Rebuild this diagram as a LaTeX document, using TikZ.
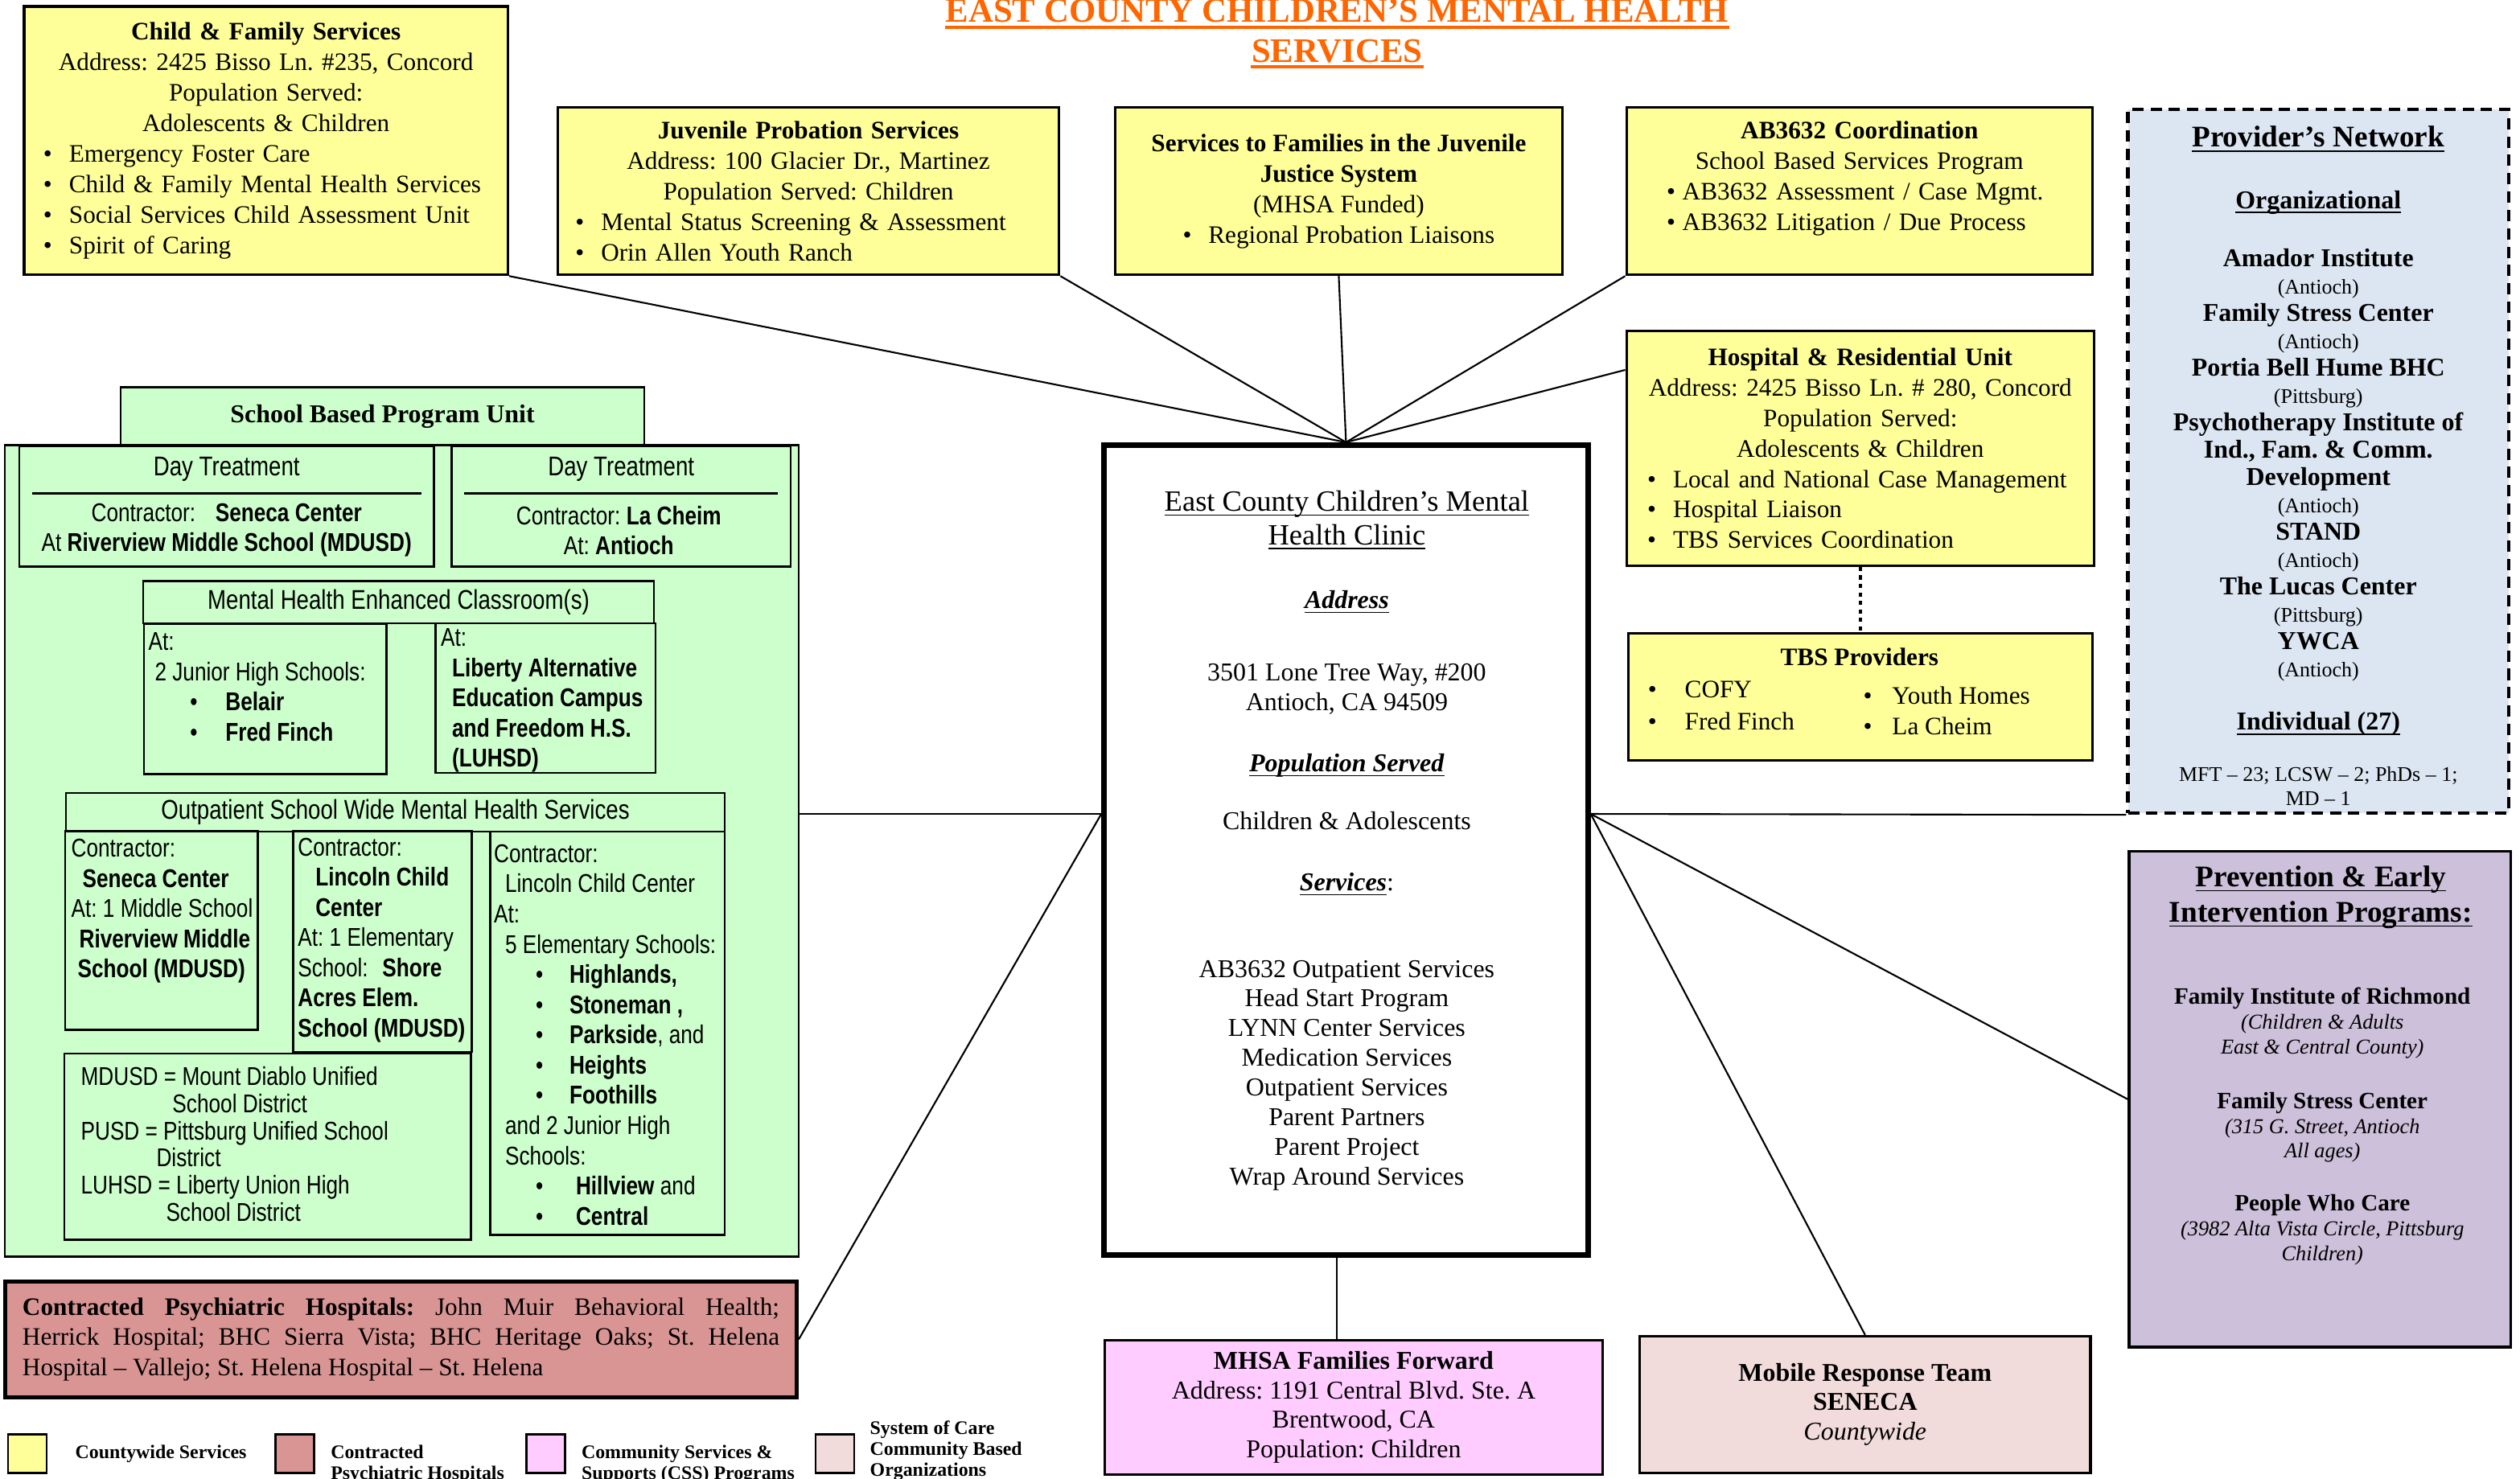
\documentclass[tikz,border=0pt]{standalone}
\usepackage{fontspec}
\setmainfont{Liberation Serif}
\newfontfamily\narrowsans{Liberation Sans}[FakeStretch=0.82]

\definecolor{cyellow}{RGB}{255,255,153}
\definecolor{cgreen}{RGB}{204,255,204}
\definecolor{cblue}{RGB}{220,230,242}
\definecolor{cpurple}{RGB}{204,192,218}
\definecolor{cred}{RGB}{217,149,148}
\definecolor{cpink}{RGB}{255,204,255}
\definecolor{crose}{RGB}{242,220,219}
\definecolor{corange}{RGB}{255,102,0}

\setlength{\parindent}{0pt}
\lineskiplimit=-20pt
\frenchspacing

\newcommand{\bodyfont}{\fontsize{8.9}{10.8}\selectfont}
\newcommand{\schoolfont}{\narrowsans\fontsize{9.1}{10.7}\selectfont}
\newcommand{\schoolhead}{\narrowsans\fontsize{9.6}{10.7}\selectfont}
\newcommand{\smallloc}{\fontsize{7.4}{9.7}\selectfont}
\newcommand{\peinote}{\fontsize{7.5}{8.8}\selectfont\itshape}
\newcommand{\bul}{\makebox[0.32cm][l]{\textbullet}}
\newcommand{\bitem}[1]{\makebox[\hsize][l]{\bul#1}}
\newcommand{\sbul}[1]{\hspace*{0.52cm}\makebox[#1][l]{\textbullet}}
\newcommand{\ulx}[1]{\underline{\raisebox{0pt}[\height][0pt]{#1}}}

\tikzset{
    ybox/.style={draw, line width=0.9pt, fill=cyellow, inner sep=0pt, font=\bodyfont, align=center},
    gbox/.style={draw, line width=0.7pt, fill=cgreen, inner sep=0pt},
    plain/.style={inner sep=0pt, font=\bodyfont, align=center},
    school/.style={inner sep=0pt, font=\schoolfont, align=left},
    titletxt/.style={inner sep=0pt, anchor=base, text=corange, font=\fontsize{12.2}{14}\selectfont\bfseries},
    link/.style={line width=0.6pt},
    legbox/.style={draw, line width=0.8pt, minimum width=0.48cm, minimum height=0.48cm, inner sep=0pt},
    legtxt/.style={inner sep=0pt, anchor=west, align=left, font={\fontsize{6.8}{7.4}\selectfont\bfseries}},
}

\begin{document}
\begin{tikzpicture}
    \useasboundingbox (0,0) rectangle (31.36,-18.40);

    % Titulo
    \node[titletxt] (title1) at (16.64,-0.28) {EAST COUNTY CHILDREN'S MENTAL HEALTH};
    \node[titletxt] (title2) at (16.64,-0.774) {SERVICES};
    \draw[corange, line width=1.2pt] ([yshift=-1.7pt]title1.base west) -- ([yshift=-1.7pt]title1.base east);
    \draw[corange, line width=1.2pt] ([yshift=-1.7pt]title2.base west) -- ([yshift=-1.7pt]title2.base east);

    % Fila de arriba
    \node[ybox, minimum width=6.02cm, minimum height=3.34cm, text width=5.54cm] (cfs) at (3.31,-1.75) {
        \textbf{Child \& Family Services}\\
        Address: 2425 Bisso Ln. \#235, Concord\\
        Population Served:\\
        Adolescents \& Children\\
        \bitem{Emergency Foster Care}\\
        \bitem{Child \& Family Mental Health Services}\\
        \bitem{Social Services Child Assessment Unit}\\
        \bitem{Spirit of Caring}};

    \node[ybox, minimum width=6.24cm, minimum height=2.08cm, text width=5.80cm] (jps) at (10.06,-2.38) {
        \textbf{Juvenile Probation Services}\\
        Address: 100 Glacier Dr., Martinez\\
        Population Served: Children\\
        \bitem{Mental Status Screening \& Assessment}\\
        \bitem{Orin Allen Youth Ranch}};

    \node[ybox, minimum width=5.56cm, minimum height=2.08cm] (sfj) at (16.66,-2.38) {
        \textbf{Services to Families in the Juvenile}\\
        \textbf{Justice System}\\
        (MHSA Funded)\\
        \textbullet\hspace{5.9pt}Regional Probation Liaisons};

    \node[ybox, minimum width=5.80cm, minimum height=2.08cm] (ab) at (23.14,-2.38) {};
    \node[plain, text width=4.80cm] (ab-txt) at (23.14,-2.22) {
        \textbf{AB3632 Coordination}\\
        School Based Services Program\\
        \makebox[\hsize][l]{\textbullet\hspace{2.5pt}AB3632 Assessment / Case Mgmt.}\\
        \makebox[\hsize][l]{\textbullet\hspace{2.5pt}AB3632 Litigation / Due Process}};

    % Red de proveedores
    \node[draw, line width=1.2pt, dash pattern=on 4pt off 2.5pt, fill=cblue, minimum width=4.74cm, minimum height=8.76cm,
          inner sep=0pt, align=center, font=\fontsize{9.1}{9.7}\selectfont] (pn) at (28.85,-5.74) {};
    \node[plain, font=\fontsize{9.1}{9.7}\selectfont] (pn-txt) at (28.85,-5.80) {
        {\fontsize{10.6}{9.7}\selectfont\bfseries\ulx{Provider's Network}}\\[12pt]
        {\bfseries\ulx{Organizational}}\\[10.8pt]
        \textbf{Amador Institute}\\
        {\smallloc(Antioch)}\\
        \textbf{Family Stress Center}\\
        {\smallloc(Antioch)}\\
        \textbf{Portia Bell Hume BHC}\\
        {\smallloc(Pittsburg)}\\
        \textbf{Psychotherapy Institute of}\\
        \textbf{Ind., Fam. \& Comm.}\\
        \textbf{Development}\\
        {\smallloc(Antioch)}\\
        \textbf{STAND}\\
        {\smallloc(Antioch)}\\
        \textbf{The Lucas Center}\\
        {\smallloc(Pittsburg)}\\
        \textbf{YWCA}\\
        {\smallloc(Antioch)}\\[9.1pt]
        {\bfseries\ulx{Individual (27)}}\\[8.5pt]
        {\smallloc MFT -- 23; LCSW -- 2; PhDs -- 1;}\\[-1.2pt]
        {\smallloc MD -- 1}};

    % Hospital y TBS
    \node[ybox, minimum width=5.82cm, minimum height=2.92cm, text width=5.30cm] (hru) at (23.15,-5.58) {
        \textbf{Hospital \& Residential Unit}\\
        \makebox[\hsize][c]{Address: 2425 Bisso Ln. \# 280, Concord}\\
        Population Served:\\
        Adolescents \& Children\\
        \bitem{Local and National Case Management}\\
        \bitem{Hospital Liaison}\\
        \bitem{TBS Services Coordination}};

    \node[ybox, minimum width=5.78cm, minimum height=1.58cm] (tbs) at (23.15,-8.67) {};
    \node[plain, font=\bodyfont\bfseries] (tbs-h) at (23.14,-8.18) {TBS Providers};
    \node[plain, anchor=west, align=left, font=\fontsize{8.9}{11.4}\selectfont] (tbs-l) at (20.50,-8.78) {
        \makebox[0.46cm][l]{\textbullet}COFY\\
        \makebox[0.46cm][l]{\textbullet}Fred Finch};
    \node[plain, anchor=west, align=left, font=\fontsize{8.9}{10.8}\selectfont] (tbs-r) at (23.18,-8.85) {
        \makebox[0.36cm][l]{\textbullet}Youth Homes\\
        \makebox[0.36cm][l]{\textbullet}La Cheim};

    % Clinica central
    \node[draw, line width=2pt, fill=white, minimum width=6.02cm, minimum height=10.08cm, inner sep=0pt] (clinic) at (16.75,-10.58) {};
    \node[plain, font=\fontsize{9.1}{10.5}\selectfont] (clinic-txt) at (16.76,-10.46) {
        {\fontsize{10.4}{10.5}\selectfont\ulx{East County Children's Mental}}\\[1.4pt]
        {\fontsize{10.4}{10.5}\selectfont\ulx{Health Clinic}}\\[12.2pt]
        \ulx{\textbf{\textit{Address}}}\\[15.1pt]
        3501 Lone Tree Way, \#200\\
        Antioch, CA 94509\\[11.1pt]
        \ulx{\textbf{\textit{Population Served}}}\\[10pt]
        Children \& Adolescents\\[11.1pt]
        \ulx{\textbf{\textit{Services}}}:\\[20.2pt]
        AB3632 Outpatient Services\\
        Head Start Program\\
        LYNN Center Services\\
        Medication Services\\
        Outpatient Services\\
        Parent Partners\\
        Parent Project\\
        Wrap Around Services};

    % Unidad de programas escolares
    \node[gbox, minimum width=9.88cm, minimum height=10.10cm] (sbpu) at (5.00,-10.59) {};
    \node[gbox, minimum width=6.52cm, minimum height=0.72cm, font=\fontsize{9.1}{10.8}\selectfont\bfseries] (sbpu-h) at (4.76,-5.18) {School Based Program Unit};

    \node[gbox, minimum width=5.16cm, minimum height=1.50cm] (dt1) at (2.82,-6.30) {};
    \node[school, font=\schoolhead] (dt1-h) at (2.82,-5.84) {Day Treatment};
    \draw[line width=0.8pt] (0.40,-6.14) -- (5.24,-6.14);
    \node[school, align=center] (dt1-t) at (2.82,-6.60) {
        Contractor:\hspace{7pt}\textbf{Seneca Center}\\
        At \textbf{Riverview Middle School (MDUSD)}};

    \node[gbox, minimum width=4.22cm, minimum height=1.50cm] (dt2) at (7.73,-6.30) {};
    \node[school, font=\schoolhead] (dt2-h) at (7.73,-5.84) {Day Treatment};
    \draw[line width=0.8pt] (5.78,-6.14) -- (9.68,-6.14);
    \node[school, align=center] (dt2-t) at (7.70,-6.60) {
        Contractor: \textbf{La Cheim}\\
        At: \textbf{Antioch}};

    \node[gbox, minimum width=6.36cm, minimum height=0.53cm, font=\schoolhead] (mhec) at (4.96,-7.495) {Mental Health Enhanced Classroom(s)};
    \node[gbox, minimum width=3.02cm, minimum height=1.87cm] (mhec1) at (3.30,-8.70) {};
    \node[school, anchor=west] (mhec1-t) at (1.84,-8.55) {
        At:\\
        \hspace*{0.08cm}2 Junior High Schools:\\
        \sbul{0.44cm}\textbf{Belair}\\
        \sbul{0.44cm}\textbf{Fred Finch}};
    \node[gbox, minimum width=2.74cm, minimum height=1.86cm] (mhec2) at (6.79,-8.69) {};
    \node[school, anchor=west] (mhec2-t) at (5.48,-8.72) {
        At:\\
        \hspace*{0.14cm}\textbf{Liberty Alternative}\\
        \hspace*{0.14cm}\textbf{Education Campus}\\
        \hspace*{0.14cm}\textbf{and Freedom H.S.}\\
        \hspace*{0.14cm}\textbf{(LUHSD)}};

    \node[gbox, minimum width=8.20cm, minimum height=0.48cm, font=\schoolhead] (osw) at (4.92,-10.11) {Outpatient School Wide Mental Health Services};
    \node[gbox, minimum width=2.40cm, minimum height=2.47cm] (osA) at (2.01,-11.58) {};
    \node[school, anchor=west] (osA-t) at (0.88,-11.34) {
        Contractor:\\
        \hspace*{0.14cm}\textbf{Seneca Center}\\
        At: 1 Middle School\\
        \hspace*{0.10cm}\textbf{Riverview Middle}\\
        \hspace*{0.08cm}\textbf{School (MDUSD)}};
    \node[gbox, minimum width=2.22cm, minimum height=2.75cm] (osB) at (4.76,-11.72) {};
    \node[school, anchor=west] (osB-t) at (3.70,-11.70) {
        Contractor:\\
        \hspace*{0.22cm}\textbf{Lincoln Child}\\
        \hspace*{0.22cm}\textbf{Center}\\
        At: 1 Elementary\\
        School:\hspace{5pt}\textbf{Shore}\\
        \textbf{Acres Elem.}\\
        \textbf{School (MDUSD)}};
    \node[gbox, minimum width=2.92cm, minimum height=5.02cm] (osC) at (7.56,-12.86) {};
    \node[school, anchor=west] (osC-t) at (6.14,-12.88) {
        Contractor:\\
        \hspace*{0.14cm}Lincoln Child Center\\
        At:\\
        \hspace*{0.14cm}5 Elementary Schools:\\
        \sbul{0.42cm}\textbf{Highlands,}\\
        \sbul{0.42cm}\textbf{Stoneman ,}\\
        \sbul{0.42cm}\textbf{Parkside}, and\\
        \sbul{0.42cm}\textbf{Heights}\\
        \sbul{0.42cm}\textbf{Foothills}\\
        \hspace*{0.14cm}and 2 Junior High\\
        \hspace*{0.14cm}Schools:\\
        \sbul{0.50cm}\textbf{Hillview} and\\
        \sbul{0.50cm}\textbf{Central}};
    \node[gbox, minimum width=5.06cm, minimum height=2.32cm] (abbr) at (3.33,-14.27) {};
    \node[school, anchor=west, font=\narrowsans\fontsize{9.1}{9.6}\selectfont] (abbr-t) at (1.00,-14.24) {
        MDUSD = Mount Diablo Unified\\
        \hspace*{1.14cm}School District\\
        PUSD = Pittsburg Unified School\\
        \hspace*{0.94cm}District\\
        LUHSD = Liberty Union High\\
        \hspace*{1.06cm}School District};

    % Hospitales contratados
    \node[draw, line width=1.4pt, fill=cred, minimum width=9.85cm, minimum height=1.44cm, inner sep=0pt,
          text width=9.42cm, align=justify, font=\bodyfont] (cph) at (4.99,-16.67) {
        \textbf{Contracted Psychiatric Hospitals:} John Muir Behavioral Health;\linebreak
        Herrick Hospital; BHC Sierra Vista; BHC Heritage Oaks; St. Helena\linebreak
        Hospital -- Vallejo; St. Helena Hospital -- St. Helena};

    % Prevencion
    \node[draw, line width=1.1pt, fill=cpurple, minimum width=4.75cm, minimum height=6.17cm, inner sep=0pt] (pei) at (28.87,-13.68) {};
    \node[plain, font=\fontsize{10.6}{12.5}\selectfont\bfseries] (pei-t) at (28.88,-11.16) {
        \ulx{Prevention \& Early}\\
        \ulx{Intervention Programs:}};
    \node[plain, font=\fontsize{8.3}{8.8}\selectfont] (pei-b) at (28.90,-14.02) {
        \textbf{Family Institute of Richmond}\\
        {\peinote(Children \& Adults}\\
        {\peinote East \& Central County)}\\[10.5pt]
        \textbf{Family Stress Center}\\
        {\peinote(315 G. Street, Antioch}\\
        {\peinote All ages)}\\[10pt]
        \textbf{People Who Care}\\
        {\peinote(3982 Alta Vista Circle, Pittsburg}\\
        {\peinote Children)}};

    % Abajo
    \node[draw, line width=0.9pt, fill=cpink, minimum width=6.19cm, minimum height=1.67cm, inner sep=0pt,
          align=center, font=\fontsize{9.1}{10.4}\selectfont] (mhsa) at (16.845,-17.515) {
        \textbf{MHSA Families Forward}\\
        Address: 1191 Central Blvd. Ste. A\\
        Brentwood, CA\\
        Population: Children};
    \node[draw, line width=0.9pt, fill=crose, minimum width=5.61cm, minimum height=1.70cm, inner sep=0pt,
          align=center, font=\fontsize{9.1}{10.3}\selectfont] (mrt) at (23.21,-17.48) {
        \textbf{Mobile Response Team}\\
        \textbf{SENECA}\\
        \textit{Countywide}};

    % Leyenda
    \node[legbox, fill=cyellow] (leg1) at (0.34,-18.09) {};
    \node[legtxt] (leg1-t) at (0.93,-18.10) {Countywide Services};
    \node[legbox, fill=cred] (leg2) at (3.67,-18.09) {};
    \node[legtxt] (leg2-t) at (4.11,-18.23) {Contracted\\Psychiatric Hospitals};
    \node[legbox, fill=cpink] (leg3) at (6.79,-18.09) {};
    \node[legtxt] (leg3-t) at (7.23,-18.23) {Community Services \&\\Supports (CSS) Programs};
    \node[legbox, fill=crose] (leg4) at (10.39,-18.09) {};
    \node[legtxt] (leg4-t) at (10.82,-18.05) {System of Care\\Community Based\\Organizations};

    % Conexiones
    \coordinate (cl) at ([yshift=0.45cm]clinic.west);
    \coordinate (cr) at ([yshift=0.45cm]clinic.east);
    \coordinate (cb) at ([xshift=-0.11cm]clinic.south);
    \draw[link] (cfs.south east) -- (clinic.north);
    \draw[link] (jps.south east) -- (clinic.north);
    \draw[link] (sfj.south) -- (clinic.north);
    \draw[link] (ab.south west) -- (clinic.north);
    \draw[link] ([yshift=-0.5cm]hru.north west) -- (clinic.north);
    \draw[link] (sbpu.east |- cl) -- (cl);
    \draw[link] (cph.east) -- (cl);
    \draw[link] (cr) -- (pn.south west);
    \draw[link] (cr) -- (pei.west);
    \draw[link] (cr) -- (mrt.north);
    \draw[link] (cb) -- (cb |- mhsa.north);
    \draw[line width=1pt, dash pattern=on 1.5pt off 1.5pt] (hru.south) -- (tbs.north);
\end{tikzpicture}
\end{document}
